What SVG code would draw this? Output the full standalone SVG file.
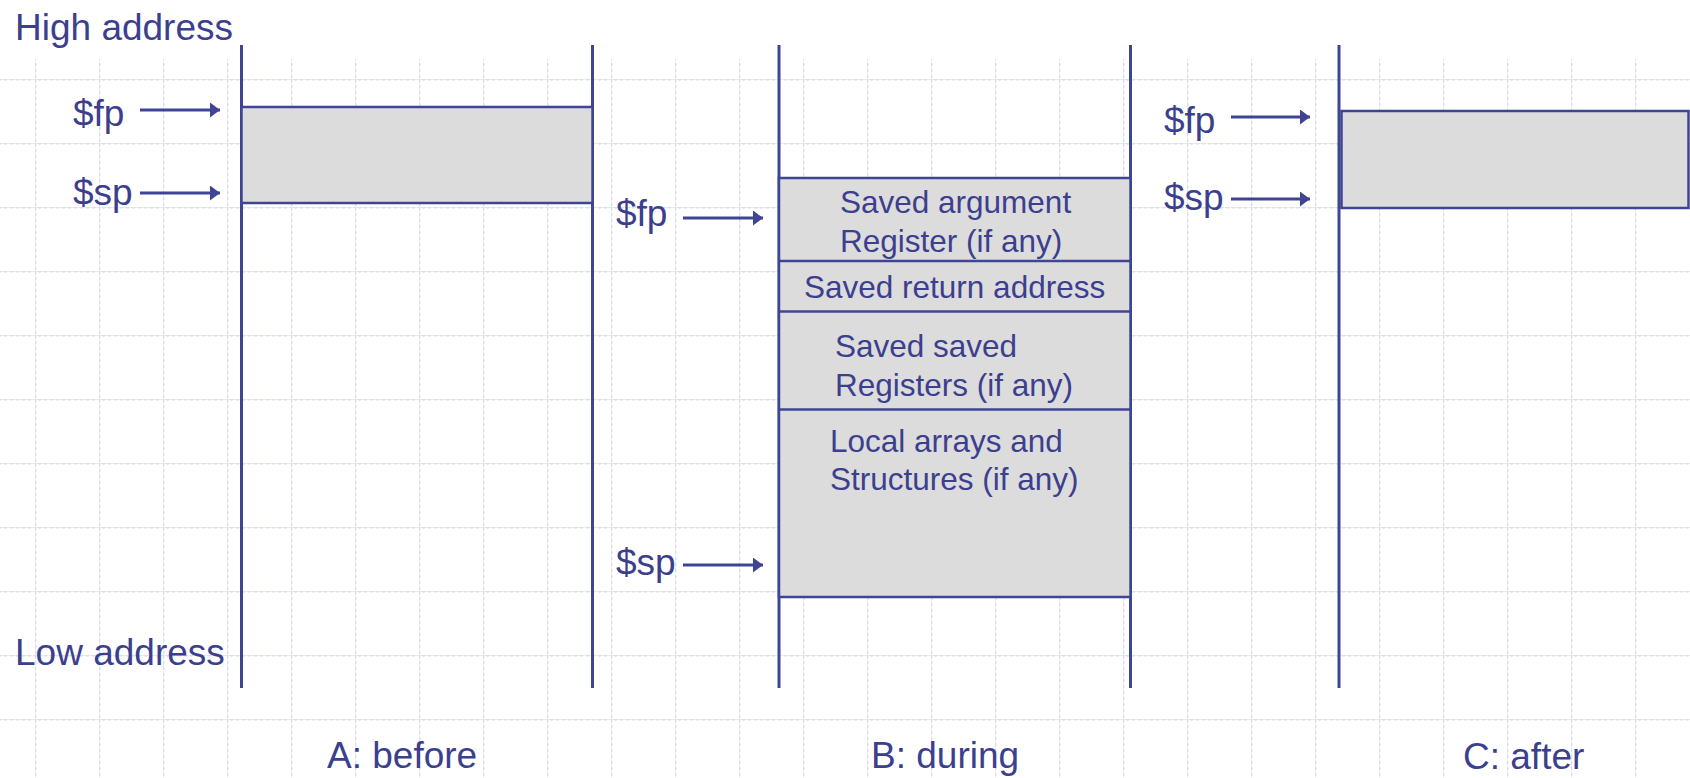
<svg xmlns="http://www.w3.org/2000/svg" width="1690" height="778" viewBox="0 0 1690 778">
<defs>
<style>
.t{font-family:"Liberation Sans",Arial,sans-serif;fill:#3c3f8e}
.lbl{font-size:37px}
.bx{font-size:31.5px}
.vl{stroke:#3f4494;stroke-width:3;fill:none}
.box{fill:#dcdcdc;stroke:#3f4494;stroke-width:2.5}
.arr{stroke:#3f4494;stroke-width:3;fill:none;marker-end:url(#ah)}
.grid{stroke:#d6e0f7;stroke-width:1.8;fill:none}
</style>
<marker id="ah" markerUnits="userSpaceOnUse" markerWidth="12" markerHeight="16" refX="10" refY="7.5" orient="auto">
<path d="M0,0 L10,7.5 L0,15 Z" fill="#3f4494"/>
</marker>
<pattern id="gp" patternUnits="userSpaceOnUse" x="35" y="15" width="64" height="64">
<path class="grid" d="M0,0 q1.5,-1.4 3,0 t3,0 t3,0 t3,0 t3,0 t3,0 t3,0 t3,0 t3,0 t3,0 t3,0 t3,0 t3,0 t3,0 t3,0 t3,0 t3,0 t3,0 t3,0 t3,0 t3,0 t4,0"/>
<path class="grid" d="M0,0 q1.4,1.5 0,3 t0,3 t0,3 t0,3 t0,3 t0,3 t0,3 t0,3 t0,3 t0,3 t0,3 t0,3 t0,3 t0,3 t0,3 t0,3 t0,3 t0,3 t0,3 t0,3 t0,3 t0,4"/>
</pattern>
</defs>
<rect x="0" y="0" width="1690" height="778" fill="#ffffff"/>
<rect id="background-grid" x="0" y="59" width="1690" height="719" fill="url(#gp)"/>

<g id="frame-A">
<line class="vl" x1="241.5" y1="45" x2="241.5" y2="688"/>
<line class="vl" x1="592.5" y1="45" x2="592.5" y2="688"/>
<rect class="box" x="241.5" y="107" width="351" height="96"/>
<text class="t lbl" x="327" y="768">A: before</text>
</g>

<g id="frame-B">
<line class="vl" x1="779" y1="45" x2="779" y2="688"/>
<line class="vl" x1="1130.5" y1="45" x2="1130.5" y2="688"/>
<rect class="box" x="779" y="178" width="351.5" height="419"/>
<line class="vl" x1="779" y1="261" x2="1130.5" y2="261" style="stroke-width:2.5"/>
<line class="vl" x1="779" y1="311.5" x2="1130.5" y2="311.5" style="stroke-width:2.5"/>
<line class="vl" x1="779" y1="409.5" x2="1130.5" y2="409.5" style="stroke-width:2.5"/>
<text class="t bx" x="840" y="213">Saved argument</text>
<text class="t bx" x="840" y="252">Register (if any)</text>
<text class="t bx" x="804" y="298">Saved return address</text>
<text class="t bx" x="835" y="357">Saved saved</text>
<text class="t bx" x="835" y="396">Registers (if any)</text>
<text class="t bx" x="830" y="452">Local arrays and</text>
<text class="t bx" x="830" y="490">Structures (if any)</text>
<text class="t lbl" x="871" y="768">B: during</text>
</g>

<g id="frame-C">
<line class="vl" x1="1339" y1="45" x2="1339" y2="688"/>
<rect class="box" x="1341.5" y="111" width="347" height="97"/>
<text class="t lbl" x="1463" y="769">C: after</text>
</g>

<g id="labels">
<text class="t lbl" x="15" y="40">High address</text>
<text class="t lbl" x="15" y="665">Low address</text>
<text class="t lbl" x="73" y="126">$fp</text>
<text class="t lbl" x="73" y="205">$sp</text>
<text class="t lbl" x="616" y="226">$fp</text>
<text class="t lbl" x="616" y="575">$sp</text>
<text class="t lbl" x="1164" y="133">$fp</text>
<text class="t lbl" x="1164" y="210">$sp</text>
</g>

<g id="connectors">
<line class="arr" x1="140" y1="110" x2="220" y2="110"/>
<line class="arr" x1="140" y1="193" x2="220" y2="193"/>
<line class="arr" x1="683" y1="218" x2="763" y2="218"/>
<line class="arr" x1="683" y1="565" x2="763" y2="565"/>
<line class="arr" x1="1231" y1="117" x2="1310" y2="117"/>
<line class="arr" x1="1231" y1="199" x2="1310" y2="199"/>
</g>
</svg>
